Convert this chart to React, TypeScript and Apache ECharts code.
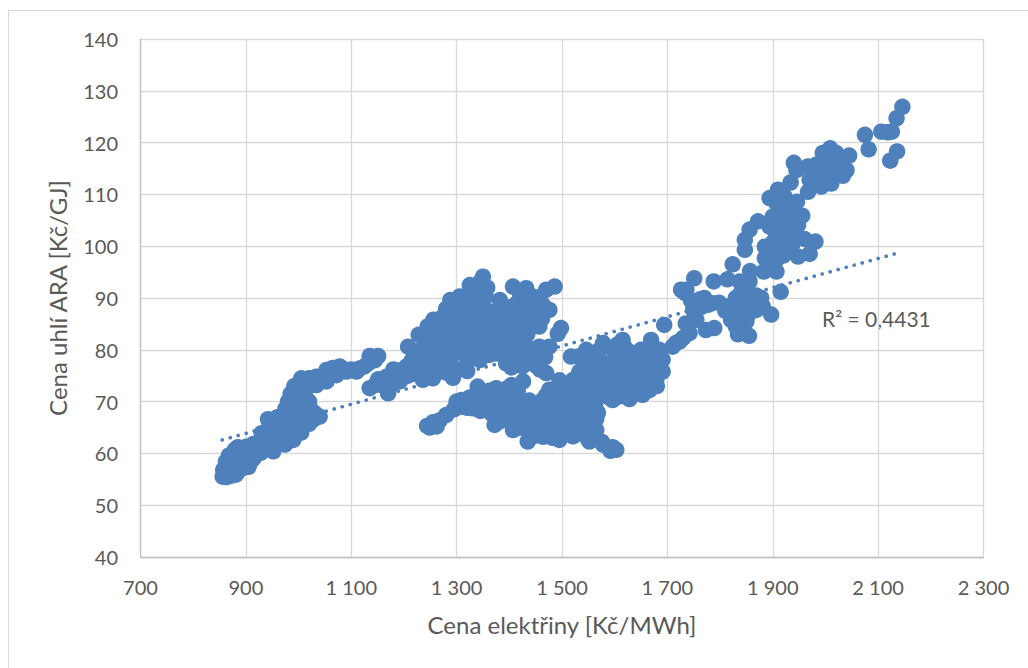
import React, { useEffect, useRef } from "react";
import * as echarts from "echarts";

const xTicks = [700, 900, 1100, 1300, 1500, 1700, 1900, 2100, 2300];
const xTickLabels = ["700", "900", "1 100", "1 300", "1 500", "1 700", "1 900", "2 100", "2 300"];
const xAxisTitle = "Cena elektřiny [Kč/MWh]";
const yAxisTitle = "Cena uhlí ARA [Kč/GJ]";
const r2Label = "R² = 0,4431";
const trendPoints = [[855, 62.6], [2142, 98.8]];

const lowStrand = [
  [856,55.5],[863,55.4],[873,55.7],[881,55.9],[857,56.8],[866,56.8],[876,56.8],[885,56.5],[895,57.2],[905,57.4],
  [862,58.4],[870,58.1],[882,58.4],[892,58.6],[898,58.1],[909,58.4],[914,59],[868,59.6],[878,59.9],[888,60.1],
  [898,59.8],[907,59.4],[920,60.4],[928,60.1],[879,60.7],[892,60.4],[901,61.3],[885,61.2],[914,61.8],[925,61.4],
  [940,61.6],[952,60.4],[930,62.6],[945,62.9],[960,62.4],[974,61.7],[990,62.6],[930,63.9],[950,63.8],[965,64.1],
  [980,63.7],[995,64.2],[1005,64],[945,65.4],[960,65.6],[977,65.3],[990,65.5],[1005,65.8],[1020,65.7],[942,66.6],
  [965,67],[980,67.1],[995,67],[1010,67.2],[1028,66.5],[1040,67.1],[975,68.6],[990,68.7],[1005,68.5],[1022,68.7],
  [980,70],[995,70],[1010,70.2],[985,71.5],[1000,71.6],[1012,71.2],[992,73],[1005,73.1],[1020,73],[1005,74.5],
  [1020,74.5],[1034,74.8],[1034,73.2],[1050,74.4],[1053,76.1],[1065,76.5],[1053,73.9],[1072,75.1],[1078,76.8],[1091,75.8],
  [1085,76.3],[1100,76.2],[1116,76.4],[1132,77.4],[1135,78.8],[1151,78.8],[1145,78],[1125,76.8],[1110,75.8],[1138,78],
  [870,57.5],[880,57.5],[890,59],[900,60.5],[912,60.5],[935,62.8],[950,62],[965,62.5],[985,62.5],[1000,65.5],
  [1015,67],[1030,67.8],[970,66.5],[985,68.2],[1000,69.5],[1020,70],[960,67],
];
const upperLobeLeft = [
  [1135,72.6],[1145,73.2],[1151,74.3],[1160,73.1],[1170,71.6],[1167,74.8],[1178,73.4],[1186,75.5],[1192,73.9],[1205,74.9],
  [1205,76.8],[1196,76.1],[1180,76.2],[1215,75.3],[1225,75.9],[1236,74.2],[1255,74.5],[1245,75.8],[1265,75.9],[1280,75.6],
  [1293,74.6],[1300,76.2],[1318,77],[1320,75.9],[1344,78],[1215,78],[1235,77.8],[1252,77.5],[1270,77.9],[1286,78],
  [1208,80.6],[1225,79.7],[1243,79.6],[1262,79.7],[1282,79.3],[1300,79.4],[1325,79.2],[1348,80],[1228,82.9],[1240,81.8],
  [1258,81.9],[1272,82],[1290,81.6],[1312,81.9],[1330,82],[1350,82.3],[1245,84.5],[1262,84.3],[1280,84.2],[1298,83.7],
  [1318,84],[1337,84.2],[1355,84.4],[1256,85.8],[1272,86.2],[1290,86],[1310,85.8],[1330,86.1],[1348,86.3],[1280,87.9],
  [1296,87.8],[1316,87.9],[1334,87.9],[1352,88],[1288,89.6],[1306,90.3],[1322,90],[1340,90.2],[1355,90.3],[1325,92.5],
  [1338,92.4],[1350,94.1],[1345,93.1],[1358,92],[1362,79],[1370,80.5],[1365,83.2],[1366,86],
  [1225,78.5],[1215,76.6],[1240,78],[1260,78.5],[1275,80.5],[1295,80.5],[1315,80.5],[1335,80.7],[1355,81],[1250,83],
  [1265,83],[1285,83],[1305,83],[1325,83],[1345,83],[1270,85],[1300,85],[1320,85],[1340,85],[1295,89],
  [1310,88.9],[1330,89],[1345,89.2],[1355,85],[1360,87.5],
];
const upperLobeRight = [
  [1382,89.6],[1407,92.2],[1420,91],[1432,91.9],[1470,91.6],[1486,92.2],[1458,90.2],[1445,90.1],[1476,87.7],[1380,87.6],
  [1397,88.2],[1415,89],[1432,89.2],[1450,88.8],[1464,88.6],[1378,85.5],[1395,86.1],[1410,86.5],[1428,87],[1445,86.9],
  [1462,86],[1378,83.5],[1393,84],[1410,84.4],[1428,84.7],[1444,84.6],[1457,84.5],[1492,83.1],[1498,84.2],[1375,81.4],
  [1392,82],[1408,82],[1420,82.5],[1434,83],[1375,79.3],[1390,78.8],[1394,77.4],[1410,79.6],[1420,78],[1436,78.6],
  [1433,80.5],[1457,80.6],[1476,80.6],[1446,79.2],[1468,78.6],[1450,77],[1470,75.5],[1458,76.2],[1404,76.6],[1425,76.8],
  [1385,87],[1405,87],[1425,86],[1385,84.5],[1405,85],[1420,83.5],[1440,85.5],[1405,83],[1385,80.5],[1400,80.5],
  [1420,80],[1430,85],[1450,87.8],[1440,90.5],
];
const lowerStrand = [
  [1244,65.3],[1249,65],[1262,65.2],[1255,66],[1268,66.4],[1280,67.4],[1295,68.5],[1312,69],[1325,70.8],[1309,70.3],
  [1340,72.9],[1345,71.2],[1331,68.7],[1356,70.3],[1359,69],[1375,72.6],[1362,72.1],[1382,70.3],[1388,69],[1392,71.8],
  [1404,73.2],[1407,70.5],[1416,72],[1426,73.9],[1410,69],[1372,65.5],[1372,67.1],[1394,67.1],[1382,66.2],[1420,67.1],
  [1300,70],[1320,68.8],[1345,69.8],[1365,70.8],[1395,69.5],[1395,72.5],[1345,68.2],[1365,67.8],[1410,66],
];
const lowerMass = [
  [1407,64.5],[1420,65],[1432,64.7],[1457,64.4],[1483,64.6],[1508,64.4],[1533,64.7],[1558,64.4],[1435,62.3],[1448,63.4],
  [1464,63.2],[1495,62.6],[1482,63],[1521,63.3],[1549,62.8],[1552,62.3],[1565,64.5],[1400,66.2],[1426,66.6],[1451,66.4],
  [1476,66.5],[1502,66.6],[1527,66.4],[1552,66.5],[1565,66.7],[1568,67.8],[1413,68.4],[1438,68.2],[1464,68.5],[1489,68.3],
  [1514,68.5],[1540,68.4],[1565,68.4],[1438,70.2],[1464,70.4],[1489,70.3],[1514,70.2],[1540,70.4],[1565,70.3],[1596,70.3],
  [1578,71.4],[1628,70.5],[1476,72.3],[1502,72.2],[1527,72.4],[1552,72.3],[1578,72.2],[1604,72.4],[1635,72.2],[1653,71.3],
  [1666,72.2],[1495,74.1],[1521,74.2],[1546,74.1],[1571,74.3],[1596,74.2],[1622,74.3],[1647,74.1],[1679,74.2],[1533,75.8],
  [1558,76.1],[1584,76],[1610,76.2],[1635,76],[1660,76.1],[1688,76],[1691,75.8],[1546,78],[1571,78],[1597,77.8],
  [1622,78.1],[1647,78],[1672,78],[1691,78.1],[1546,80],[1571,80],[1597,80.1],[1628,79.6],[1650,80],[1685,80],
  [1578,81.3],[1615,81.9],[1605,81],[1669,81.9],[1517,78.7],[1530,78.7],[1578,61.7],[1590,61],[1603,60.7],[1592,60.5],
  [1596,61.2],[1576,62.2],
];
const lowerMassFill = [
  [1590,70.8],[1610,71],[1640,71.5],[1650,73],[1665,74],[1680,73],[1670,76],[1682,78],[1660,78.5],[1640,77],
  [1620,76.8],[1600,76.7],[1580,75],[1560,75],[1540,74.6],[1520,73],[1500,71],[1540,71.5],[1560,71.2],[1585,73],
  [1610,73.3],[1625,73],[1650,75],[1600,79],[1560,79],[1640,78.5],[1665,80],[1620,80.3],[1440,67.5],[1465,67.5],
  [1490,67.5],[1515,67.5],[1540,67.5],[1555,68],[1450,65.5],[1475,65.2],[1495,65.2],[1520,65.3],[1545,65.4],[1430,69.2],
  [1450,69.3],[1475,69.3],[1500,69.5],[1525,69.3],[1550,69.5],[1470,71.2],[1490,71.3],[1515,71.2],
];
const rightLower = [
  [1751,93.8],[1726,91.6],[1735,90.9],[1761,89.6],[1754,87.7],[1694,84.8],[1735,85.1],[1773,83.8],[1789,84.2],[1710,80.6],
  [1723,81.6],[1742,83.2],[1730,91.3],[1736,91.6],[1761,89.7],[1798,89.1],[1839,90.9],[1878,90],[1881,88.4],[1897,86.8],
  [1777,88.7],[1749,87.7],[1818,88.4],[1850,88.4],[1821,85.8],[1840,86.4],[1869,87.7],[1755,85.8],[1834,83],[1855,82.7],
  [1843,84.5],[1825,87],[1915,91.2],[1788,93.2],[1814,93.6],[1837,93.2],[1856,93.2],[1857,95.2],[1824,96.5],[1745,89.5],
  [1716,81.3],[1730,82.3],[1740,84.6],[1765,88.3],[1830,90],[1843,89.2],[1858,89.8],[1868,90.5],[1835,88],[1855,87],
  [1770,90],[1785,89],[1810,87.5],[1830,84.5],[1850,85.5],[1860,90.5],[1875,88.5],
];
const rightUpper = [
  [1883,95.1],[1907,95.1],[1895,96],[1885,97.7],[1894,98.7],[1907,97.4],[1920,98.2],[1935,99],[1948,98],[1970,98.5],
  [1981,100.9],[1960,101.4],[1938,100.6],[1913,100.6],[1885,99.9],[1900,100.7],[1925,100.4],[1847,99.3],[1847,101.2],[1856,103.2],
  [1872,104.8],[1894,103.8],[1905,102.7],[1913,103.2],[1926,102.5],[1940,103],[1948,104.1],[1932,105.4],[1900,105.7],[1916,105.4],
  [1956,105.9],[1913,106.7],[1907,108.3],[1925,107.6],[1940,106.8],[1946,108.6],[1922,109.6],[1894,109.3],[1910,110.9],[1934,112.3],
  [1940,116.1],[1945,114.7],[1967,115.4],[1967,110.5],[1970,112.8],[1976,112.2],[1992,111.5],[2011,112.1],[1989,114],[2002,113.4],
  [1982,115.7],[1995,118],[2009,118.9],[2020,118],[2008,116.3],[2027,116],[2020,114.4],[2033,113.6],[2040,114.7],[2045,117.5],
  [2075,121.5],[2082,118.7],[2106,122.1],[2118,122],[2126,122.1],[2135,124.7],[2146,126.9],[2136,118.3],[2123,116.5],[1975,115],
];

export default function App() {
  const ref = useRef<HTMLDivElement>(null);
  useEffect(() => {
    const chart = echarts.init(ref.current!, null, { renderer: "svg" });
    const font = "Lato";
    const txt = "#595959";
    const grid = { color: "#d9d9d9", width: 1.3 };
    chart.setOption({
      animation: false,
      backgroundColor: "#fff",
      grid: { left: 140.5, right: 1028 - 983.5, top: 39, bottom: 668 - 557, containLabel: false },
      xAxis: {
        type: "value", min: 700, max: 2300,
        name: xAxisTitle, nameLocation: "middle", nameGap: 55,
        nameTextStyle: { color: txt, fontSize: 24, fontFamily: font },
        axisLine: { show: true, lineStyle: { color: "#bfbfbf", width: 1.3 } },
        axisTick: { show: false, customValues: xTicks },
        axisLabel: {
          customValues: xTicks, color: txt, fontSize: 20, fontFamily: font, margin: 20,
          formatter: (v: number) => xTickLabels[xTicks.indexOf(v)] ?? "",
        },
        splitLine: { show: true, lineStyle: grid },
      },
      yAxis: {
        type: "value", min: 40, max: 140, interval: 10,
        name: yAxisTitle, nameLocation: "middle", nameGap: 71,
        nameTextStyle: { color: txt, fontSize: 24, fontFamily: font },
        axisLine: { show: true, lineStyle: { color: "#bfbfbf", width: 1.3 } },
        axisTick: { show: false },
        axisLabel: { color: txt, fontSize: 20, fontFamily: font, margin: 22.5 },
        splitLine: { show: true, lineStyle: grid },
      },
      graphic: [
        { type: "rect", silent: true, z: -10, shape: { x: 8.5, y: 10.5, width: 1100, height: 700 }, style: { fill: "none", stroke: "#d9d9d9", lineWidth: 1.2 } },
        { type: "text", x: 822, y: 307.5, style: { text: r2Label, fill: txt, fontSize: 21, fontFamily: font } },
      ],
      series: [
        {
          type: "line", data: trendPoints, symbol: "none", z: 1, silent: true,
          lineStyle: { color: "#4e80bc", width: 3.6, type: [0.1, 8.2], cap: "round" },
        },
        ...[lowStrand, upperLobeLeft, upperLobeRight, lowerStrand, lowerMass, lowerMassFill, rightLower, rightUpper].map((d) => ({
          type: "scatter", data: d, symbol: "circle", symbolSize: 16.5, z: 2,
          itemStyle: { color: "#4e80bc", opacity: 1 },
        })),
      ],
    });
    return () => chart.dispose();
  }, []);
  return <div ref={ref} style={{ position: "fixed", left: 0, top: 0, width: 1028, height: 668, background: "#fff" }} />;
}
